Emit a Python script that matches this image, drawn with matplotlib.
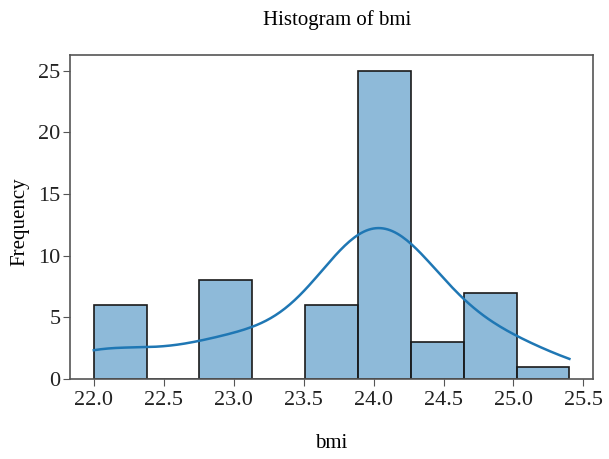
import matplotlib
matplotlib.use("Agg")
import matplotlib.pyplot as plt
import seaborn as sns

# BMI observations
bmi = [
    22.0, 22.0, 22.0, 22.1, 22.1, 22.2,
    22.8, 22.9, 22.95, 23.0, 23.05, 23.1, 23.1, 23.13,
    23.7, 23.75, 23.8, 23.85, 23.85, 23.88,
    23.9, 23.9, 23.9, 23.9,
    23.95, 23.95, 23.95, 23.95,
    24.0, 24.0, 24.0, 24.0,
    24.05, 24.05, 24.05, 24.05,
    24.1, 24.1, 24.1,
    24.15, 24.15, 24.2, 24.2, 24.25, 24.25,
    24.3, 24.3, 24.4,
    24.7, 24.8, 24.85, 24.9, 24.95, 25.0, 25.0,
    25.4,
]
n_bins = 9
x_ticks = [22.0, 22.5, 23.0, 23.5, 24.0, 24.5, 25.0, 25.5]
y_ticks = [0, 5, 10, 15, 20, 25]

plt.rcParams["font.family"] = ["Liberation Serif", "DejaVu Serif"]
plt.rcParams["font.size"] = 15

fig = plt.figure(figsize=(6.09, 4.59), dpi=100)
ax = fig.add_axes([0.115, 0.174, 0.859, 0.706])

sns.histplot(bmi, bins=n_bins, kde=True, kde_kws={"bw_adjust": 1.1}, ax=ax,
             color="#1f77b4", alpha=0.5, edgecolor="#1a1a1a", linewidth=1.2,
             line_kws={"lw": 1.8})

ax.set_xticks(x_ticks)
ax.set_xticklabels([f"{t:.1f}" for t in x_ticks])
ax.set_yticks(y_ticks)
ax.set_xlabel("bmi", labelpad=17, fontsize=15)
ax.set_ylabel("Frequency", labelpad=6, fontsize=15, y=0.485)
ax.set_title("Histogram of bmi", pad=22, x=0.51, fontsize=15)

for s in ax.spines.values():
    s.set_color("#555555")
    s.set_linewidth(1.2)
ax.tick_params(colors="#222222", length=5, color="#555555", labelsize=16)
ax.tick_params(axis="y", pad=2)

fig.savefig("out.png", dpi=100)
